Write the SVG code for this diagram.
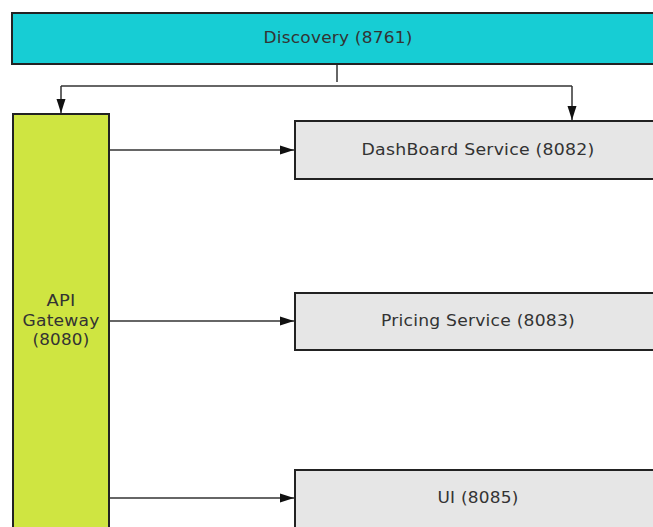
<svg xmlns="http://www.w3.org/2000/svg" width="653" height="527" viewBox="0 0 653 527">
<defs>
<marker id="ah" markerWidth="14" markerHeight="10" refX="14" refY="5" orient="auto" markerUnits="userSpaceOnUse">
<path d="M0,0.5 L14,5 L0,9.5 Z" fill="#111"/>
</marker>
<style>
.box{stroke:#222;stroke-width:2}
.t{font-family:"DejaVu Sans","Open Sans",sans-serif;font-size:15.5px;fill:#333;text-anchor:middle;letter-spacing:0.2px}
.c{fill:none;stroke:#333;stroke-width:1.5}
</style>
</defs>
<rect width="653" height="527" fill="#fff"/>
<g id="discovery">
<rect class="box" x="12" y="13" width="650" height="51" fill="#17CDD4"/>
<text class="t" x="338" y="43" textLength="149" lengthAdjust="spacingAndGlyphs">Discovery (8761)</text>
</g>
<g id="api-gateway">
<rect class="box" x="13" y="114" width="96" height="420" fill="#CFE541"/>
<text class="t" x="61" y="306" textLength="29" lengthAdjust="spacingAndGlyphs">API</text>
<text class="t" x="61" y="326" textLength="77" lengthAdjust="spacingAndGlyphs">Gateway</text>
<text class="t" x="61" y="345" textLength="57" lengthAdjust="spacingAndGlyphs">(8080)</text>
</g>
<g id="dashboard">
<rect class="box" x="295" y="121" width="365" height="58" fill="#E6E6E6"/>
<text class="t" x="478" y="155" textLength="233" lengthAdjust="spacingAndGlyphs">DashBoard Service (8082)</text>
</g>
<g id="pricing">
<rect class="box" x="295" y="293" width="365" height="57" fill="#E6E6E6"/>
<text class="t" x="478" y="326" textLength="194" lengthAdjust="spacingAndGlyphs">Pricing Service (8083)</text>
</g>
<g id="ui">
<rect class="box" x="295" y="470" width="365" height="65" fill="#E6E6E6"/>
<text class="t" x="478" y="503" textLength="81" lengthAdjust="spacingAndGlyphs">UI (8085)</text>
</g>
<g id="connectors">
<path class="c" d="M337,65 V82"/>
<path class="c" d="M61,86 H572"/>
<path class="c" d="M61,86 V113" marker-end="url(#ah)"/>
<path class="c" d="M572,86 V120" marker-end="url(#ah)"/>
<path class="c" d="M110,150 H294" marker-end="url(#ah)"/>
<path class="c" d="M110,321 H294" marker-end="url(#ah)"/>
<path class="c" d="M110,498 H294" marker-end="url(#ah)"/>
</g>
</svg>
